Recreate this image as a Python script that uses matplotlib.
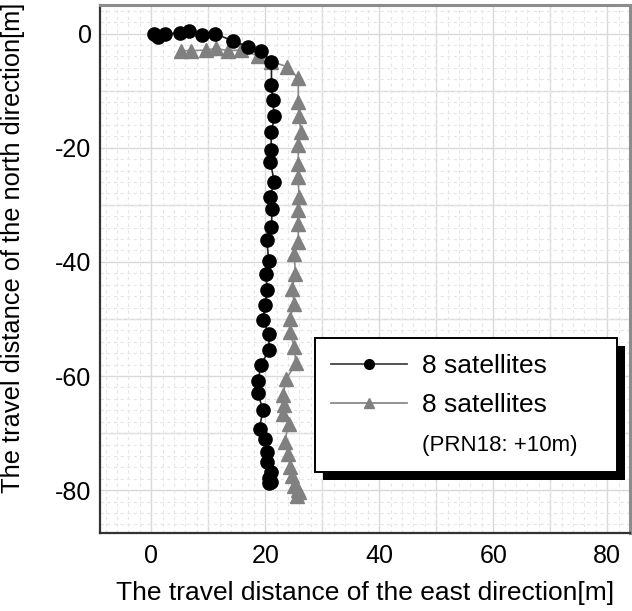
import matplotlib
matplotlib.use("Agg")
import matplotlib.pyplot as plt
from matplotlib.lines import Line2D
from matplotlib.patches import Rectangle
from matplotlib.transforms import IdentityTransform
import numpy as np

plt.rcParams['font.family'] = ['Liberation Sans', 'DejaVu Sans']
plt.rcParams['axes.unicode_minus'] = False

# 8 satellites (normal)
east_a = [0.5, 1.2, 2.5, 5.1, 6.7, 8.9, 11.2, 14.3, 17.0, 19.3, 21.1, 21.1, 21.3,
          21.6, 21.1, 21.0, 20.9, 21.6, 20.8, 21.2, 21.1, 20.3, 20.6, 20.2, 20.3,
          20.0, 19.6, 20.6, 20.7, 19.2, 18.8, 18.7, 19.6, 19.0, 20.0, 20.3, 20.3,
          21.1, 20.7, 21.0, 20.6]
north_a = [0.0, -0.6, 0.0, 0.05, 0.4, -0.2, 0.0, -1.3, -2.3, -3.1, -5.0, -9.1, -11.7,
           -14.5, -17.3, -20.4, -22.5, -26.0, -28.7, -30.8, -33.9, -36.1, -39.8, -42.2, -44.9,
           -47.6, -50.1, -52.6, -55.5, -58.0, -60.9, -63.0, -65.9, -69.2, -71.0, -73.4, -75.1,
           -76.8, -77.9, -78.5, -78.8]

# 8 satellites with PRN18 +10m
east_b = [5.2, 7.0, 9.6, 11.4, 13.4, 15.8, 18.7, 21.1, 23.8, 25.8, 25.8, 25.9,
          26.3, 25.8, 25.8, 25.7, 26.0, 25.7, 25.8, 25.8, 25.1, 25.3, 24.7,
          25.1, 24.3, 24.3, 25.1, 25.4, 23.7, 23.1, 23.3, 23.2, 24.1, 23.4, 24.0,
          24.4, 24.7, 25.1, 25.7, 26.0, 25.5]
north_b = [-3.0, -3.0, -2.9, -2.6, -3.0, -2.9, -3.9, -4.9, -5.8, -7.8, -12.0, -14.4,
           -17.3, -19.6, -22.8, -25.2, -28.7, -31.0, -33.3, -36.5, -38.7, -42.1, -44.7,
           -47.3, -50.0, -52.3, -54.9, -57.8, -60.5, -63.4, -65.1, -66.6, -68.4, -71.6, -73.6,
           -76.0, -77.6, -79.2, -80.0, -80.3, -81.0]

labels = ['8 satellites', '8 satellites', '(PRN18: +10m)']
x_ticks = [0, 20, 40, 60, 80]
y_ticks = [0, -20, -40, -60, -80]

fig = plt.figure(figsize=(6.32, 6.11), dpi=100)
ax = fig.add_axes([0.158, 0.1277, 0.839, 0.8641])

ax.plot(east_a, north_a, color='#222222', lw=1.2, marker='o', ms=9.5,
        mfc='black', mec='black', zorder=3)
ax.plot(east_b, north_b, color='#8a8a8a', lw=1.2, marker='^', ms=10,
        mfc='#808080', mec='#808080', zorder=2)

ax.set_xlim(-9, 84)
ax.set_ylim(-87.5, 5)
ax.set_xticks(x_ticks)
ax.set_yticks(y_ticks)
ax.set_xticks(np.arange(-8, 84, 2), minor=True)
ax.set_yticks(np.arange(-86, 5, 2), minor=True)

# major grid every 10, minor dashed every 2
for v in range(0, 84, 10):
    ax.axvline(v, color='#d9d9d9', lw=1, zorder=0.5)
for v in range(0, -88, -10):
    ax.axhline(v, color='#d9d9d9', lw=1, zorder=0.5)
ax.grid(which='minor', color='#e6e6e6', lw=0.8, ls=(0, (3, 3)), zorder=0.4)

ax.tick_params(which='both', length=0)
ax.tick_params(axis='x', labelsize=18, pad=8)
ax.tick_params(axis='y', labelsize=18, pad=6)

for side in ['left', 'bottom']:
    ax.spines[side].set_color('#333333')
    ax.spines[side].set_linewidth(1.6)
for side in ['top', 'right']:
    ax.spines[side].set_color('#8c8c8c')
    ax.spines[side].set_linewidth(2.2)

ax.set_xlabel('The travel distance of the east direction[m]', fontsize=19, labelpad=9)
ax.set_ylabel('The travel distance of the north direction[m]', fontsize=18.3)
ax.yaxis.set_label_coords(-0.142, 0.54)

h1 = Line2D([], [], color='#444444', lw=1.3, marker='o', ms=7, mfc='black', mec='black')
h2 = Line2D([], [], color='#8a8a8a', lw=1.3, marker='^', ms=7, mfc='#808080', mec='#808080')
h3 = Line2D([], [], linestyle='none')
leg = ax.legend([h1, h2, h3], labels, loc='upper left',
                bbox_to_anchor=(0.406, 0.127, 0.569, 0.242), mode='expand',
                borderaxespad=0, fontsize=19, handlelength=2.9, handletextpad=0.55,
                labelspacing=0.58, borderpad=0.6, fancybox=False, framealpha=1,
                edgecolor='black')
leg.get_frame().set_linewidth(1.4)
leg.get_texts()[2].set_fontsize(16)
leg.set_zorder(10)

fig.canvas.draw()
bb = leg.get_window_extent()
shadow = Rectangle((bb.x0 + 8, bb.y0 - 8), bb.width, bb.height, transform=IdentityTransform(),
                   facecolor='black', edgecolor='none', zorder=9, clip_on=False)
ax.add_artist(shadow)

fig.savefig('out.png', dpi=100)
